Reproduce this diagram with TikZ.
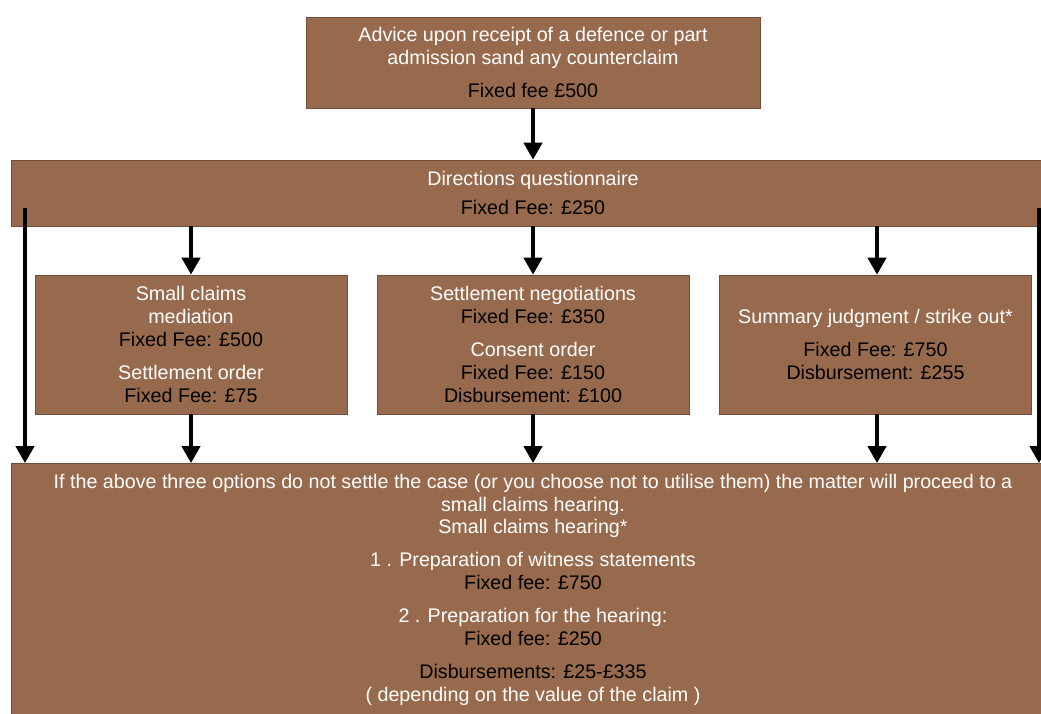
\documentclass[tikz,border=0pt]{standalone}
\usepackage{xcolor}
\usepackage{fontspec}
\setmainfont{Liberation Sans}
\definecolor{clayfill}{RGB}{152, 106, 77}
\definecolor{clayedge}{RGB}{112, 78, 58}
\usetikzlibrary{arrows.meta, positioning, calc}
\newcommand{\fee}[1]{\textcolor{black}{#1}}
\begin{document}
\begin{tikzpicture}[
    x=0.025cm, y=-0.025cm,
    box/.style={rectangle, draw=clayedge, line width=0.6pt, fill=clayfill, text=white, align=center, inner sep=2pt, font=\fontsize{14}{16.3}\selectfont},
    arrow/.style={-{Triangle[width=13pt, length=12pt]}, line width=2.3pt}
]
    \useasboundingbox (0, 0) rectangle (1041, 713);
    \clip (0, 0) rectangle (1041, 713);

    % Advice on the defence
    \node[box, minimum width=11.35cm, minimum height=2.275cm] (advice) at (533, 62.5) {Advice upon receipt of a defence or part\\admission sand any counterclaim\\[7pt]\fee{Fixed fee £500}};

    % Directions questionnaire
    \node[box, minimum width=26.05cm, minimum height=1.65cm] (dq) at (533, 193) {Directions questionnaire\\[4pt]\fee{Fixed Fee: £250}};

    % The three options
    \node[box, minimum width=7.8cm, minimum height=3.475cm] (mediation) at (191, 344.5) {Small claims\\mediation\\\fee{Fixed Fee: £500}\\[7pt]Settlement order\\\fee{Fixed Fee: £75}};
    \node[box, minimum width=7.8cm, minimum height=3.475cm] (negotiation) at (533, 344.5) {Settlement negotiations\\\fee{Fixed Fee: £350}\\[7pt]Consent order\\\fee{Fixed Fee: £150}\\\fee{Disbursement: £100}};
    \node[box, minimum width=7.8cm, minimum height=3.475cm] (summary) at (875.5, 344.5) {Summary judgment / strike out*\\[7pt]\fee{Fixed Fee: £750}\\\fee{Disbursement: £255}};

    % Small claims hearing
    \node[box, anchor=north, minimum width=26.05cm, minimum height=6.3cm] (hearing) at (533, 463) {If the above three options do not settle the case (or you choose not to utilise them) the matter will proceed to a\\small claims hearing.\\Small claims hearing*\\[7pt]1 . Preparation of witness statements\\\fee{Fixed fee: £750}\\[7pt]2 . Preparation for the hearing:\\\fee{Fixed fee: £250}\\[7pt]\fee{Disbursements: £25-£335}\\( depending on the value of the claim )};

    % Side routes straight to the hearing
    \coordinate (dqleft) at (25, 208);
    \coordinate (dqright) at (1039, 208);

    % Arrows
    \draw[arrow] (advice) -- (dq);
    \draw[arrow] (dq.south -| mediation) -- (mediation);
    \draw[arrow] (dq.south -| negotiation) -- (negotiation);
    \draw[arrow] (dq.south -| summary.north) ++ (1.5, 0) -- ($(summary.north) + (1.5, 0)$);
    \draw[arrow] (mediation) -- (mediation |- hearing.north);
    \draw[arrow] (negotiation) -- (negotiation |- hearing.north);
    \draw[arrow] ($(summary.south) + (1.5, 0)$) -- ($(summary.south |- hearing.north) + (1.5, 0)$);
    \draw[arrow] (dqleft) -- (dqleft |- hearing.north);
    \draw[arrow] (dqright) -- (dqright |- hearing.north);

\end{tikzpicture}
\end{document}
